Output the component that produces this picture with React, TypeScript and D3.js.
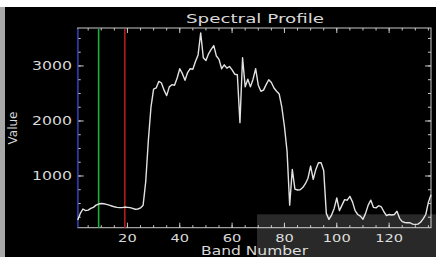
import React from "react";
import * as d3 from "d3";

const bands: number[] = d3.range(1, 137);
const values: number[] = [
  200, 320, 400, 370, 380, 410, 430, 470, 490, 500,
  495, 485, 470, 455, 440, 430, 425, 425, 435, 430,
  425, 410, 395, 400, 420, 470, 900, 1650, 2250, 2580,
  2600, 2720, 2690, 2560, 2460, 2620, 2660, 2650, 2780, 2950,
  2860, 2740, 2880, 2950, 2940, 3080, 3200, 3600, 3150, 3100,
  3220, 3300, 3370, 3180, 3120, 2950, 3020, 2960, 2990, 2930,
  2850, 2840, 1970, 3150, 2620, 2760, 2620, 2760, 2950, 2650,
  2540, 2560, 2660, 2750, 2700, 2600, 2540, 2490, 2250, 1900,
  1450, 470, 1120, 760, 745, 750, 790, 860, 960, 1180,
  940, 1120, 1240, 1240, 1100, 320, 210, 290, 410, 600,
  370, 470, 570, 560, 630, 530, 370, 300, 270, 215,
  320, 470, 560, 430, 420, 460, 440, 350, 280, 300,
  290, 300, 360, 230, 170, 155, 150, 150, 125, 120,
  125, 160, 220, 300, 520, 660,
];
const xMajorTicks: number[] = [20, 40, 60, 80, 100, 120];
const xMinorTicks: number[] = d3.range(5, 136, 5);
const yMajorTicks: number[] = [1000, 2000, 3000];
const yMinorTicks: number[] = d3.range(250, 3690, 250);
const blueBand = 1;
const greenBand = 9;
const redBand = 19;
const title = "Spectral Profile";
const xTitle = "Band Number";
const yTitle = "Value";

export default function App() {
  const W = 436, H = 257;
  const L = 77.7, R = 431, T = 28, B = 227.7;
  const x = d3.scaleLinear().domain([1, 136]).range([L, R]);
  const y = d3.scaleLinear().domain([60, 3690]).range([B, T]);
  const line = d3.line<number>().x((_, i) => x(bands[i])).y((d) => y(d));
  const axisColor = "#c8c8c8";
  const textColor = "#d8d8d8";
  const font = "DejaVu Sans, sans-serif";
  return (
    <svg width={W} height={H} style={{ position: "absolute", left: 0, top: 0, display: "block" }}>
      <rect x={0} y={0} width={W} height={H} fill="#000" />
      <rect x={0} y={0} width={W} height={7} fill="#fff" />
      <rect x={0} y={7} width={5} height={H - 7} fill="#a8a8a8" />
      {/* frame */}
      <rect x={L} y={T} width={R - L} height={B - T} fill="none" stroke={axisColor} strokeWidth={1} />
      {/* x ticks */}
      {xMinorTicks.map((t) => (
        <g key={"xm" + t}>
          <line x1={x(t)} x2={x(t)} y1={B} y2={B - 2.5} stroke={axisColor} />
          <line x1={x(t)} x2={x(t)} y1={T} y2={T + 2.5} stroke={axisColor} />
        </g>
      ))}
      {xMajorTicks.map((t) => (
        <g key={"xM" + t}>
          <line x1={x(t)} x2={x(t)} y1={B} y2={B - 5} stroke={axisColor} />
          <line x1={x(t)} x2={x(t)} y1={T} y2={T + 5} stroke={axisColor} />
          <text x={x(t)} y={242} fill={textColor} fontFamily={font} fontSize={11} textAnchor="middle"
            textLength={String(t).length * 9.3} lengthAdjust="spacingAndGlyphs">{t}</text>
        </g>
      ))}
      {/* y ticks */}
      {yMinorTicks.map((t) => (
        <g key={"ym" + t}>
          <line x1={L} x2={L + 3} y1={y(t)} y2={y(t)} stroke={axisColor} />
          <line x1={R} x2={R - 3} y1={y(t)} y2={y(t)} stroke={axisColor} />
        </g>
      ))}
      {yMajorTicks.map((t) => (
        <g key={"yM" + t}>
          <line x1={L} x2={L + 6} y1={y(t)} y2={y(t)} stroke={axisColor} />
          <line x1={R} x2={R - 6} y1={y(t)} y2={y(t)} stroke={axisColor} />
          <text x={72} y={y(t) + 4.5} fill={textColor} fontFamily={font} fontSize={12} textAnchor="end"
            textLength={40} lengthAdjust="spacingAndGlyphs">{t}</text>
        </g>
      ))}
      {/* band markers */}
      <line x1={x(greenBand)} x2={x(greenBand)} y1={T + 1} y2={B} stroke="#1fb03c" strokeWidth={1.6} />
      <line x1={x(redBand)} x2={x(redBand)} y1={T + 1} y2={B} stroke="#b01c1c" strokeWidth={1.6} />
      <line x1={x(blueBand)} x2={x(blueBand)} y1={T + 1} y2={B} stroke="#2a36a8" strokeWidth={1.6} />
      {/* spectrum */}
      <path d={line(values) || ""} fill="none" stroke="#e2e2e2" strokeWidth={1.4} strokeLinejoin="round" />
      {/* titles */}
      <text x={255} y={23} fill={textColor} fontFamily={font} fontSize={13} textAnchor="middle"
        textLength={138} lengthAdjust="spacingAndGlyphs">{title}</text>
      <text x={254.5} y={254.5} fill={textColor} fontFamily={font} fontSize={12} textAnchor="middle"
        textLength={107} lengthAdjust="spacingAndGlyphs">{xTitle}</text>
      <text transform="translate(16.5,128) rotate(-90)" fill={textColor} fontFamily={font} fontSize={12}
        textAnchor="middle" textLength={33} lengthAdjust="spacingAndGlyphs">{yTitle}</text>
      {/* overlay */}
      <rect x={257} y={214.3} width={W - 257} height={H - 214.3} fill="#fff" fillOpacity={0.16} />
    </svg>
  );
}
